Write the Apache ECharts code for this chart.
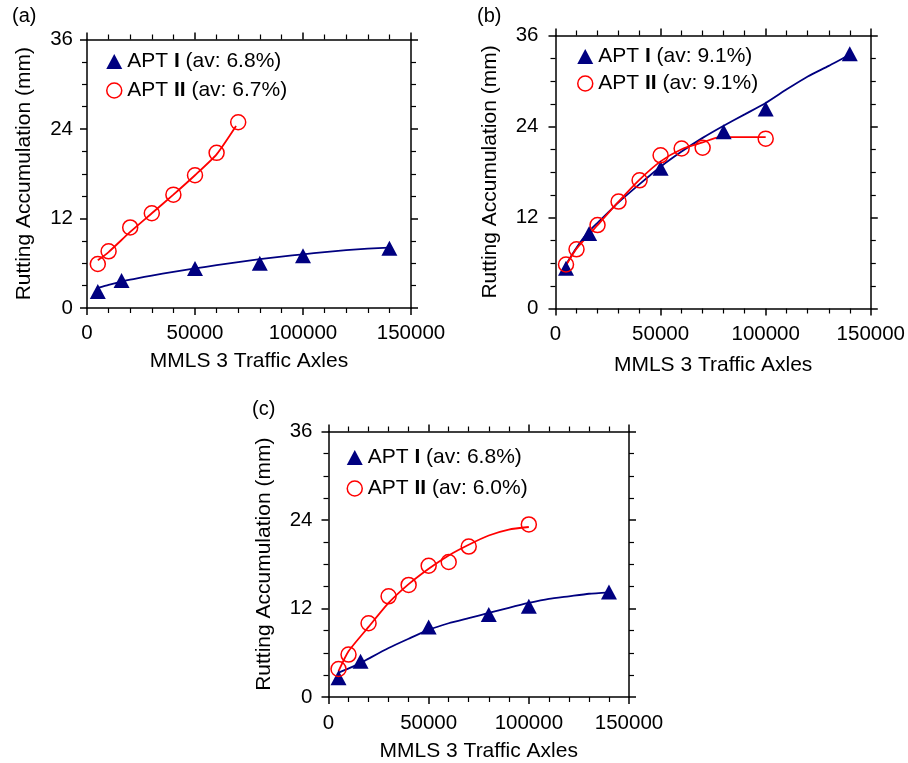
<!DOCTYPE html>
<html>
<head>
<meta charset="utf-8">
<script src="https://cdn.jsdelivr.net/npm/echarts@6/dist/echarts.min.js"></script>
<style>
  html, body { margin: 0; padding: 0; background: #fff; }
  #chart { width: 908px; height: 763px; }
</style>
</head>
<body>
<div id="chart"></div>
<script>
// ---- Panel (a) ----
const aTriX = [5000, 16000, 50000, 80000, 100000, 140000];
const aTriY = [2.2, 3.7, 5.3, 6.0, 7.0, 8.0];
const aCirX = [5000, 10000, 20000, 30000, 40000, 50000, 60000, 70000];
const aCirY = [5.9, 7.6, 10.8, 12.7, 15.2, 17.8, 20.8, 24.9];
const aFitIX = [5000, 10000, 20000, 30000, 40000, 50000, 60000, 70000, 80000, 90000, 100000, 110000, 120000, 130000, 140000];
const aFitIY = [2.7, 3.1, 3.8, 4.35, 4.85, 5.3, 5.75, 6.15, 6.55, 6.9, 7.2, 7.5, 7.75, 7.95, 8.1];
const aFitIIX = [5000, 10000, 20000, 30000, 40000, 50000, 60000, 69000];
const aFitIIY = [6.4, 7.5, 10.2, 12.7, 15.2, 17.8, 20.6, 24.4];
const aNames = ['APT I (av: 6.8%)', 'APT II (av: 6.7%)'];

// ---- Panel (b) ----
const bTriX = [5000, 16000, 50000, 80000, 100000, 140000];
const bTriY = [5.3, 9.9, 18.5, 23.3, 26.3, 33.6];
const bCirX = [5000, 10000, 20000, 30000, 40000, 50000, 60000, 70000, 100000];
const bCirY = [5.8, 7.8, 11.0, 14.1, 16.9, 20.2, 21.1, 21.2, 22.4];
const bFitIX = [5000, 10000, 15000, 20000, 30000, 40000, 50000, 60000, 70000, 80000, 90000, 100000, 110000, 120000, 130000, 140000];
const bFitIY = [5.8, 8.0, 9.9, 11.3, 14.0, 16.4, 18.7, 20.7, 22.5, 24.1, 25.6, 27.1, 28.9, 30.6, 32.0, 33.5];
const bFitIIX = [5000, 10000, 20000, 30000, 40000, 50000, 60000, 70000, 78000, 100000];
const bFitIIY = [5.7, 7.9, 11.0, 14.1, 17.0, 19.4, 21.0, 21.9, 22.6, 22.6];
const bNames = ['APT I (av: 9.1%)', 'APT II (av: 9.1%)'];

// ---- Panel (c) ----
const cTriX = [5000, 16000, 50000, 80000, 100000, 140000];
const cTriY = [2.6, 4.85, 9.5, 11.2, 12.3, 14.25];
const cCirX = [5000, 10000, 20000, 30000, 40000, 50000, 60000, 70000, 100000];
const cCirY = [3.8, 5.75, 10.0, 13.65, 15.2, 17.8, 18.3, 20.4, 23.4];
const cFitIX = [5000, 16000, 20000, 30000, 40000, 50000, 60000, 70000, 80000, 90000, 100000, 110000, 120000, 130000, 140000];
const cFitIY = [3.3, 4.6, 5.2, 6.65, 7.9, 9.1, 10.0, 10.7, 11.4, 12.1, 12.75, 13.3, 13.65, 14.0, 14.2];
const cFitIIX = [5000, 10000, 20000, 30000, 40000, 50000, 60000, 70000, 80000, 90000, 100000];
const cFitIIY = [3.5, 6.2, 9.5, 12.75, 15.3, 17.4, 19.2, 20.65, 21.9, 22.7, 23.05];
const cNames = ['APT I (av: 6.8%)', 'APT II (av: 6.0%)'];

// ---- Axis settings ----
const xTicks = { min: 0, max: 150000, interval: 50000 };
const yTicks = { min: 0, max: 36, interval: 12 };
const xTitle = 'MMLS 3 Traffic Axles';
const yTitle = 'Rutting Accumulation (mm)';

const FONT = '"Liberation Sans", Arial, Helvetica, sans-serif';
const NAVY = '#000080';
const RED = '#ff0000';

const panels = [
  { letter: '(a)', letterPos: [12, 6],
    grid: { left: 87, top: 39.5, width: 324, height: 268.5 },
    legendPos: [106, 51], legendGap: 8,
    xGap: 43, yGap: 52, xLabelMargin: 15, yLabelMargin: 14,
    tri: [aTriX, aTriY], cir: [aCirX, aCirY], fitI: [aFitIX, aFitIY], fitII: [aFitIIX, aFitIIY], names: aNames },
  { letter: '(b)', letterPos: [477, 6],
    grid: { left: 555.5, top: 35.5, width: 315.5, height: 273 },
    legendPos: [577, 46], legendGap: 6,
    xGap: 46, yGap: 55, xLabelMargin: 15, yLabelMargin: 17,
    tri: [bTriX, bTriY], cir: [bCirX, bCirY], fitI: [bFitIX, bFitIY], fitII: [bFitIIX, bFitIIY], names: bNames },
  { letter: '(c)', letterPos: [252, 399],
    grid: { left: 328.5, top: 431.5, width: 300.5, height: 266 },
    legendPos: [346.5, 447], legendGap: 10,
    xGap: 44, yGap: 54, xLabelMargin: 16, yLabelMargin: 16,
    tri: [cTriX, cTriY], cir: [cCirX, cCirY], fitI: [cFitIX, cFitIY], fitII: [cFitIIX, cFitIIY], names: cNames }
];

const zip = (xs, ys) => xs.map((x, i) => [x, ys[i]]);

const lineAxis = { show: true, onZero: false, lineStyle: { color: '#000', width: 1.5 } };
const majorTick = { show: true, inside: false, length: 7, lineStyle: { color: '#000', width: 1.5 } };
const minorTickX = { show: true, splitNumber: 5, length: 5, lineStyle: { color: '#000', width: 1.2 } };
const minorTickY = { show: true, splitNumber: 4, length: 5, lineStyle: { color: '#000', width: 1.2 } };
const tickText = { color: '#000', fontSize: 20.5, fontFamily: FONT };
const xNameText = { color: '#000', fontSize: 21, fontFamily: FONT };
const yNameText = { color: '#000', fontSize: 21, fontFamily: FONT };

const option = {
  backgroundColor: '#fff',
  animation: false,
  title: [], grid: [], xAxis: [], yAxis: [], legend: [], series: []
};

panels.forEach((p, i) => {
  option.title.push({
    text: p.letter, left: p.letterPos[0], top: p.letterPos[1], padding: 0,
    textStyle: { fontSize: 20, fontWeight: 'normal', fontFamily: FONT, color: '#000' }
  });
  option.grid.push(Object.assign({ containLabel: false }, p.grid));

  // bottom + top x axes
  option.xAxis.push({
    type: 'value', gridIndex: i, position: 'bottom',
    min: xTicks.min, max: xTicks.max, interval: xTicks.interval,
    name: xTitle, nameLocation: 'middle', nameGap: p.xGap,
    nameTextStyle: xNameText,
    axisLine: lineAxis, axisTick: majorTick, minorTick: minorTickX,
    axisLabel: Object.assign({ margin: p.xLabelMargin, showMinLabel: true, showMaxLabel: true,
      formatter: (v) => String(v) }, tickText),
    splitLine: { show: false }, minorSplitLine: { show: false }
  });
  option.xAxis.push({
    type: 'value', gridIndex: i, position: 'top',
    min: xTicks.min, max: xTicks.max, interval: xTicks.interval,
    axisLine: lineAxis, axisTick: majorTick, minorTick: minorTickX,
    axisLabel: { show: false }, splitLine: { show: false }, minorSplitLine: { show: false }
  });
  // left + right y axes
  option.yAxis.push({
    type: 'value', gridIndex: i, position: 'left',
    min: yTicks.min, max: yTicks.max, interval: yTicks.interval,
    name: yTitle, nameLocation: 'middle', nameGap: p.yGap, nameRotate: 90,
    nameTextStyle: yNameText,
    axisLine: lineAxis, axisTick: majorTick, minorTick: minorTickY,
    axisLabel: Object.assign({ margin: p.yLabelMargin, showMinLabel: true, showMaxLabel: true }, tickText),
    splitLine: { show: false }, minorSplitLine: { show: false }
  });
  option.yAxis.push({
    type: 'value', gridIndex: i, position: 'right',
    min: yTicks.min, max: yTicks.max, interval: yTicks.interval,
    axisLine: lineAxis, axisTick: majorTick, minorTick: minorTickY,
    axisLabel: { show: false }, splitLine: { show: false }, minorSplitLine: { show: false }
  });

  const xi = 2 * i, yi = 2 * i;

  option.legend.push({
    orient: 'vertical', left: p.legendPos[0], top: p.legendPos[1],
    itemWidth: 16, itemHeight: 15, itemGap: p.legendGap, padding: 0,
    selectedMode: false,
    data: [
      { name: p.names[0], icon: 'triangle', itemStyle: { color: NAVY, borderWidth: 0, opacity: 1 } },
      { name: p.names[1], icon: 'circle', itemStyle: { color: 'rgba(255,255,255,0)', borderColor: RED, borderWidth: 1.5, opacity: 1 } }
    ],
    formatter: (name) => {
      const m = name.match(/^APT (I+) (.*)$/);
      return '{t|APT }{b|' + m[1] + '}{t| ' + m[2] + '}';
    },
    textStyle: {
      color: '#000', fontSize: 21, fontFamily: FONT,
      rich: {
        t: { fontSize: 21, fontFamily: FONT, color: '#000' },
        b: { fontSize: 21, fontFamily: FONT, color: '#000', fontWeight: 'bold' }
      }
    }
  });

  // fitted curves
  option.series.push({
    type: 'line', xAxisIndex: xi, yAxisIndex: yi, data: zip(p.fitI[0], p.fitI[1]),
    showSymbol: false, smooth: 0.2, lineStyle: { color: NAVY, width: 1.8 }, z: 2, silent: true
  });
  option.series.push({
    type: 'line', xAxisIndex: xi, yAxisIndex: yi, data: zip(p.fitII[0], p.fitII[1]),
    showSymbol: false, smooth: 0.2, lineStyle: { color: RED, width: 1.8 }, z: 2, silent: true
  });
  // measured points
  option.series.push({
    type: 'scatter', name: p.names[0], xAxisIndex: xi, yAxisIndex: yi,
    data: zip(p.tri[0], p.tri[1]), symbol: 'triangle', symbolSize: [16, 15],
    itemStyle: { color: NAVY, opacity: 1 }, z: 3
  });
  option.series.push({
    type: 'scatter', name: p.names[1], xAxisIndex: xi, yAxisIndex: yi,
    data: zip(p.cir[0], p.cir[1]), symbol: 'circle', symbolSize: 15,
    itemStyle: { color: 'rgba(255,255,255,0)', borderColor: RED, borderWidth: 1.5, opacity: 1 }, z: 4
  });
});

const chart = echarts.init(document.getElementById('chart'), null, { renderer: 'canvas' });
chart.setOption(option);
</script>
</body>
</html>
